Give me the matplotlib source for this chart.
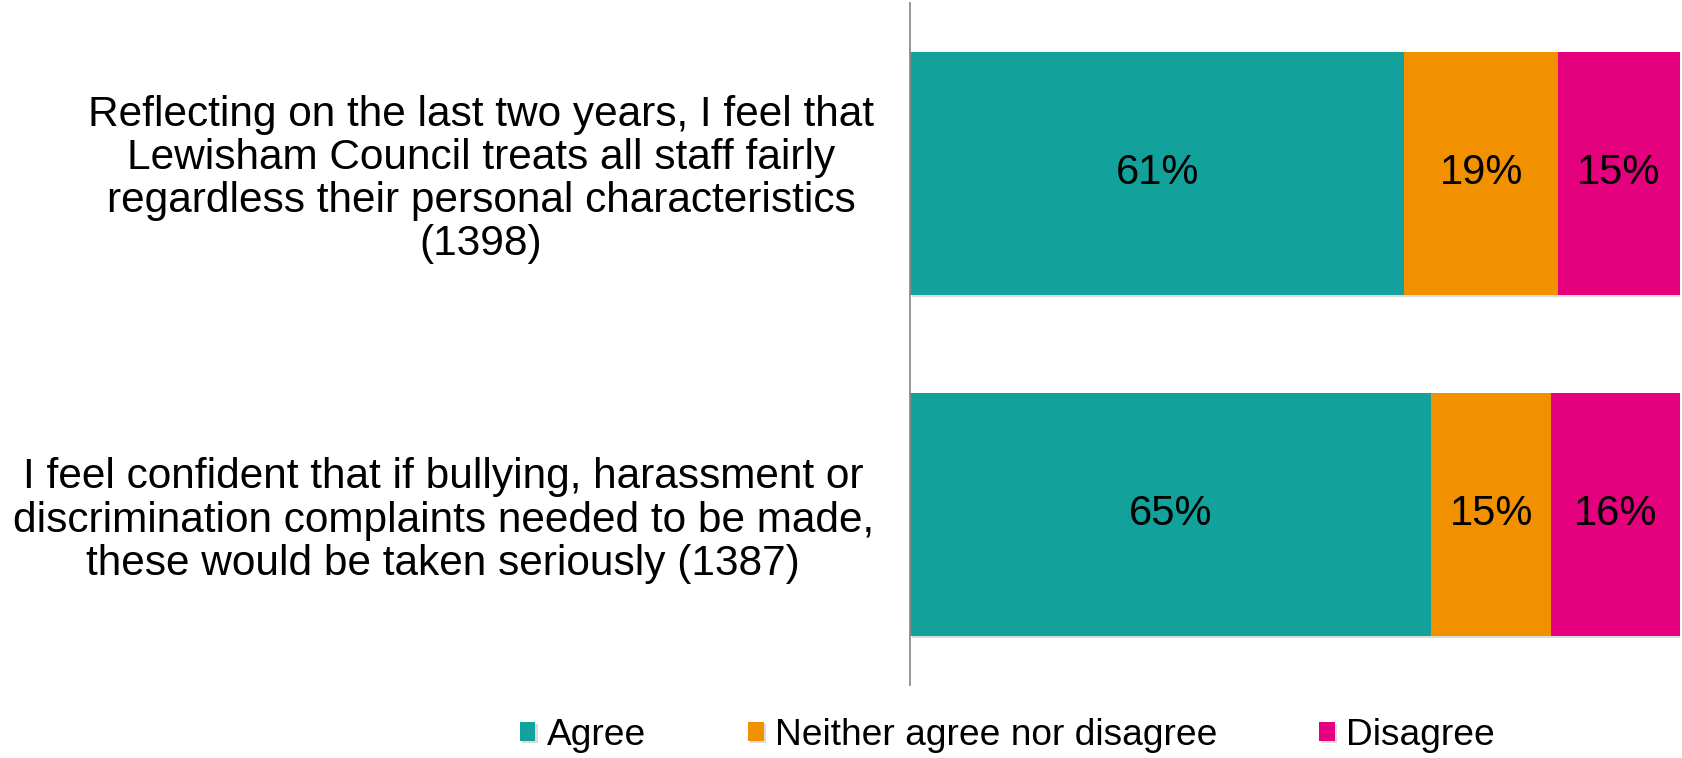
import matplotlib
matplotlib.use("Agg")
import matplotlib.pyplot as plt
import matplotlib.patheffects as pe

plt.rcParams['font.family'] = ['Liberation Sans', 'DejaVu Sans']

# survey statements and response shares
questions = [
    "Reflecting on the last two years, I feel that\nLewisham Council treats all staff fairly\nregardless their personal characteristics\n(1398)",
    "I feel confident that if bullying, harassment or\ndiscrimination complaints needed to be made,\nthese would be taken seriously (1387)",
]
responses = ["Agree", "Neither agree nor disagree", "Disagree"]
agree = [61, 65]
neither = [19, 15]
disagree = [15, 16]
colors = ["#12A19B", "#F29100", "#E5007E"]

fig = plt.figure(figsize=(16.83, 7.58), dpi=100)
ax = fig.add_axes([0.5407, 0.0963, 0.4573, 0.9])

series = [agree, neither, disagree]
totals = [sum(s[i] for s in series) for i in range(len(questions))]

left = [0.0] * len(questions)
for name, vals, col in zip(responses, series, colors):
    # 100% stacked: each segment is its share of the answered total
    widths = [v / t * 100 for v, t in zip(vals, totals)]
    bars = ax.barh(range(len(questions)), widths, left=left, height=0.714,
                   color=col, label=name, linewidth=0)
    for b in bars:
        b.set_path_effects([pe.SimplePatchShadow(offset=(1.5, -1.5), shadow_rgbFace="#999999", alpha=0.35),
                            pe.Normal()])
    for i, (v, w) in enumerate(zip(vals, widths)):
        ax.text(left[i] + w / 2, i, f"{v}%", ha="center", va="center",
                fontsize=30, color="black")
    left = [l + w for l, w in zip(left, widths)]

ax.set_xlim(0, 100)
ax.set_ylim(1.5, -0.5)
ax.set_yticks(range(len(questions)))
ax.set_yticklabels(questions, fontsize=30.5)
for t in ax.get_yticklabels():
    t.set_multialignment("center")
    t.set_linespacing(1.1)
ax.tick_params(axis="y", length=0, pad=26)
ax.set_xticks([])
for s in ["top", "right", "bottom"]:
    ax.spines[s].set_visible(False)
ax.spines["left"].set_color("#8c8c8c")
ax.spines["left"].set_linewidth(1.3)

fig.legend(loc="center", bbox_to_anchor=(0.5985, 0.03), ncol=3, frameon=False,
           fontsize=26.7, handlelength=0.43, handleheight=0.43, handletextpad=0.3,
           columnspacing=2.75, borderpad=0)

plt.savefig("out.png", dpi=100)
